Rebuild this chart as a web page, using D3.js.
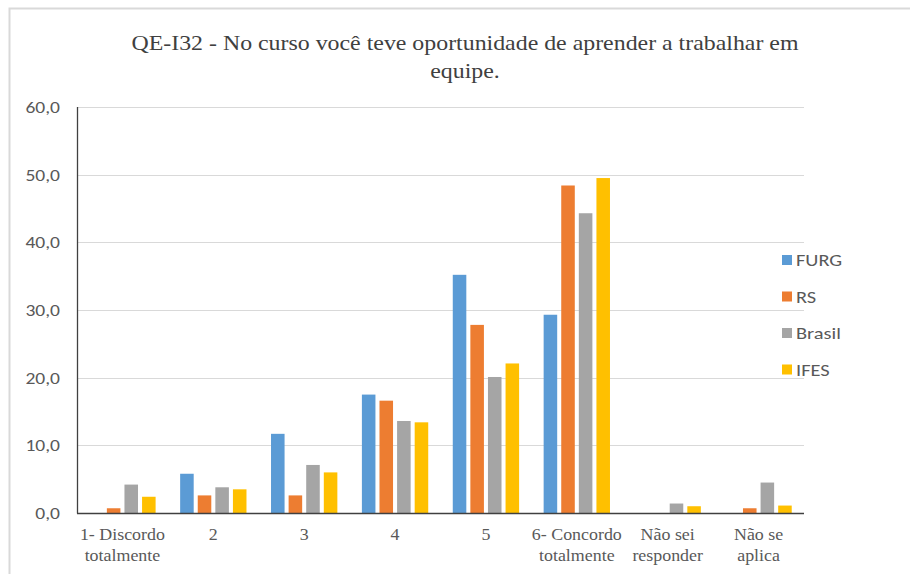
<html>
<head>
<meta charset="utf-8">
<script src="https://d3js.org/d3.v7.min.js"></script>
<style>
body { margin: 0; background: #fff; }
svg { display: block; }
.serif { font-family: "Liberation Serif", Tinos, "Times New Roman", "DejaVu Serif"; }
.sans { font-family: Carlito, Calibri, Lato, "Liberation Sans", sans-serif; }
</style>
</head>
<body>
<svg width="910" height="574"></svg>
<script>
// categorias (eixo x) e series
var categorias = [
  ["1- Discordo", "totalmente"], ["2"], ["3"], ["4"], ["5"],
  ["6- Concordo", "totalmente"], ["Não sei", "responder"], ["Não se", "aplica"]
];
var series = ["FURG", "RS", "Brasil", "IFES"];
var cores = ["#5B9BD5", "#ED7D31", "#A5A5A5", "#FFC000"];
var FURG   = [0, 5.8, 11.7, 17.5, 35.2, 29.3, 0, 0];
var RS     = [0.7, 2.6, 2.6, 16.6, 27.8, 48.4, 0, 0.7];
var Brasil = [4.2, 3.8, 7.1, 13.6, 20.1, 44.3, 1.4, 4.5];
var IFES   = [2.4, 3.5, 6.0, 13.4, 22.1, 49.5, 1.0, 1.1];
var yTicks = [0, 10, 20, 30, 40, 50, 60];

var valores = [FURG, RS, Brasil, IFES];
var svg = d3.select("svg");

// o grafico original esta um pouco esticado na horizontal
function estica(k, x) {
  return "matrix(" + k + ",0,0,1," + (x - k * x) + ",0)";
}

// moldura
svg.append("path")
  .attr("d", "M9.5,574 V8.5 H910")
  .attr("fill", "none").attr("stroke", "#d9d9d9").attr("stroke-width", 2);

// titulo
var titulo = svg.append("text")
  .attr("class", "serif")
  .attr("text-anchor", "middle")
  .attr("transform", estica(1.11, 465))
  .style("font-size", "21.5px").style("fill", "#404040");
titulo.append("tspan").attr("x", 465).attr("y", 50)
  .text("QE-I32 - No curso você teve oportunidade de aprender a trabalhar em");
titulo.append("tspan").attr("x", 465).attr("y", 78).text("equipe.");

var x0 = d3.scaleBand().domain(d3.range(categorias.length)).range([77, 804]).paddingInner(0.27).paddingOuter(0.135);
var x1 = d3.scaleBand().domain(series).range([0, x0.bandwidth()]).paddingInner(0.23);
var y = d3.scaleLinear().domain([0, 60]).range([513, 107]);

// grade
svg.append("g").selectAll("line").data(yTicks.slice(1)).join("line")
  .attr("x1", 77).attr("x2", 804)
  .attr("y1", function(d){ return Math.round(y(d)) + 0.5; })
  .attr("y2", function(d){ return Math.round(y(d)) + 0.5; })
  .attr("stroke", "#d9d9d9").attr("stroke-width", 1);

// rotulos do eixo y
svg.append("g").attr("transform", estica(1.15, 60))
  .selectAll("text").data(yTicks).join("text")
  .attr("class", "sans")
  .attr("x", 60).attr("y", function(d){ return y(d) + 6; })
  .attr("text-anchor", "end")
  .style("font-size", "17px").style("fill", "#595959")
  .text(function(d){ return d.toFixed(1).replace(".", ","); });

// barras
series.forEach(function(s, i){
  svg.append("g").selectAll("rect").data(valores[i]).join("rect")
    .attr("x", function(d, j){ return x0(j) + x1(s); })
    .attr("y", function(d){ return y(d); })
    .attr("width", x1.bandwidth())
    .attr("height", function(d){ return y(0) - y(d); })
    .attr("fill", cores[i]);
});

// eixos
svg.append("line").attr("x1", 77.5).attr("x2", 77.5).attr("y1", 107).attr("y2", 513.5)
  .attr("stroke", "#404040").attr("stroke-width", 1.3);
svg.append("line").attr("x1", 77).attr("x2", 804).attr("y1", 513.5).attr("y2", 513.5)
  .attr("stroke", "#404040").attr("stroke-width", 1.3);

// rotulos do eixo x
var xl = svg.append("g").selectAll("text").data(categorias).join("text")
  .attr("class", "serif")
  .attr("text-anchor", "middle")
  .attr("transform", function(d, j){ return estica(1.12, x0(j) + x0.bandwidth() / 2); })
  .style("font-size", "16px").style("fill", "#595959");
xl.each(function(d, j){
  var t = d3.select(this);
  d.forEach(function(linha, k){
    t.append("tspan").attr("x", x0(j) + x0.bandwidth() / 2).attr("y", 540 + k * 21).text(linha);
  });
});

// legenda
var leg = svg.append("g").selectAll("g").data(series).join("g")
  .attr("transform", function(d, i){ return "translate(782," + (256 + i * 36.5) + ")"; });
leg.append("rect").attr("x", 0).attr("y", -1).attr("width", 10).attr("height", 10)
  .attr("fill", function(d, i){ return cores[i]; });
leg.append("text").attr("class", "sans").attr("x", 14).attr("y", 10)
  .attr("transform", estica(1.2, 14))
  .style("font-size", "17px").style("fill", "#595959")
  .text(function(d){ return d; });
</script>
</body>
</html>
